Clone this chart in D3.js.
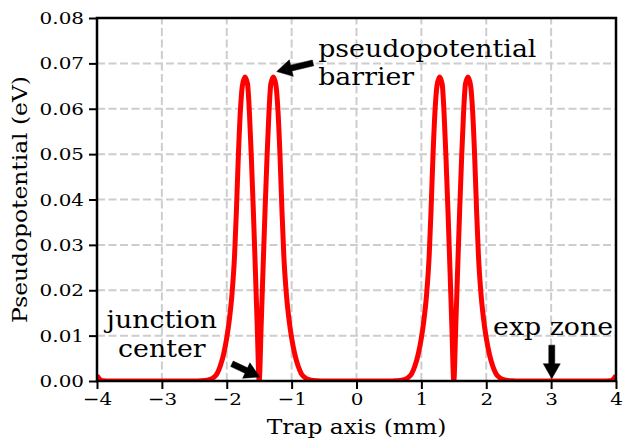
<!DOCTYPE html>
<html>
<head>
<meta charset="utf-8">
<script src="https://cdn.jsdelivr.net/npm/d3@7"></script>
<style>
  html, body { margin: 0; padding: 0; background: #fff; }
  svg text { font-family: "DejaVu Serif", "Liberation Serif", serif; fill: #000; }
</style>
</head>
<body>
<svg id="chart" width="624" height="440"></svg>
<script>
// Pseudopotential along the trap axis (mm) in eV
const trapX = [
  -4.00, -3.97, -3.94, -3.90, -3.80,
  -2.50, -2.40, -2.30, -2.25, -2.20, -2.15, -2.10, -2.05, -2.00, -1.96, -1.92, -1.88,
  -1.85, -1.82, -1.79, -1.76, -1.72, -1.68, -1.65, -1.62, -1.59, -1.56, -1.53, -1.50,
  -1.47, -1.44, -1.41, -1.38, -1.35, -1.32, -1.28, -1.24, -1.21, -1.18, -1.15, -1.12,
  -1.08, -1.04, -1.00, -0.95, -0.90, -0.85, -0.80, -0.75, -0.70, -0.60, -0.50,
  0.50, 0.60, 0.70, 0.75, 0.80, 0.85, 0.90, 0.95, 1.00, 1.04, 1.08, 1.12,
  1.15, 1.18, 1.21, 1.24, 1.28, 1.32, 1.35, 1.38, 1.41, 1.44, 1.47, 1.50,
  1.53, 1.56, 1.59, 1.62, 1.65, 1.68, 1.72, 1.76, 1.79, 1.82, 1.85, 1.88,
  1.92, 1.96, 2.00, 2.05, 2.10, 2.15, 2.20, 2.25, 2.30, 2.40, 2.50,
  3.80, 3.90, 3.94, 3.97, 4.00
];
const pseudoPot = [
  0.0012, 0.0006, 0.0002, 0.00005, 0.0000,
  0.0000, 0.00005, 0.0002, 0.0004, 0.0008, 0.0016, 0.0033, 0.0058, 0.0095, 0.0135, 0.0190, 0.0275,
  0.0380, 0.0500, 0.0595, 0.0650, 0.0670, 0.0655, 0.0590, 0.0490, 0.0375, 0.0250, 0.0120, 0.0000,
  0.0120, 0.0250, 0.0375, 0.0490, 0.0590, 0.0655, 0.0670, 0.0650, 0.0595, 0.0500, 0.0380, 0.0275,
  0.0190, 0.0135, 0.0095, 0.0058, 0.0033, 0.0016, 0.0008, 0.0004, 0.0002, 0.00005, 0.0000,
  0.0000, 0.00005, 0.0002, 0.0004, 0.0008, 0.0016, 0.0033, 0.0058, 0.0095, 0.0135, 0.0190, 0.0275,
  0.0380, 0.0500, 0.0595, 0.0650, 0.0670, 0.0655, 0.0590, 0.0490, 0.0375, 0.0250, 0.0120, 0.0000,
  0.0120, 0.0250, 0.0375, 0.0490, 0.0590, 0.0655, 0.0670, 0.0650, 0.0595, 0.0500, 0.0380, 0.0275,
  0.0190, 0.0135, 0.0095, 0.0058, 0.0033, 0.0016, 0.0008, 0.0004, 0.0002, 0.00005, 0.0000,
  0.0000, 0.00005, 0.0002, 0.0006, 0.0012
];

const xTicks = [-4, -3, -2, -1, 0, 1, 2, 3, 4];
const yTicks = [0.00, 0.01, 0.02, 0.03, 0.04, 0.05, 0.06, 0.07, 0.08];

// Annotations: text lines, text anchor point, arrow tail and arrow tip (data units)
const noteLabels = [["pseudopotential", "barrier"], ["junction", "center"], ["exp zone"]];
const noteAlign  = ["start", "middle", "middle"];
const noteTextX  = [-0.59, -3.00, 3.03];
const noteTextY  = [0.0715, 0.0116, 0.0101];
const arrowTailX = [-0.67, -1.92, 3.01];
const arrowTailY = [0.0701, 0.0038, 0.0079];
const arrowTipX  = [-1.23, -1.49, 3.01];
const arrowTipY  = [0.0682, 0.0009, 0.0005];

// wide serif lettering
const STRETCH = 1.14;

const margin = { left: 97, top: 18, right: 8, bottom: 59 };
const W = 624, H = 440;
const innerW = W - margin.left - margin.right;
const innerH = H - margin.top - margin.bottom;

const svg = d3.select("#chart");
const g = svg.append("g").attr("transform", `translate(${margin.left},${margin.top})`);

const x = d3.scaleLinear().domain([-4, 4]).range([0, innerW]);
const y = d3.scaleLinear().domain([0, 0.08]).range([innerH, 0]);

// dashed grid
const grid = g.append("g").attr("class", "grid")
  .attr("stroke", "#cdcdcd").attr("stroke-width", 2).attr("stroke-dasharray", "8,3.5");
grid.selectAll("line.gx").data(xTicks).join("line")
  .attr("class", "gx")
  .attr("x1", d => x(d)).attr("x2", d => x(d))
  .attr("y1", innerH).attr("y2", 0);
grid.selectAll("line.gy").data(yTicks).join("line")
  .attr("class", "gy")
  .attr("y1", d => y(d)).attr("y2", d => y(d))
  .attr("x1", 0).attr("x2", innerW);

// curve, clipped to the axes box
svg.append("defs").append("clipPath").attr("id", "plotClip")
  .append("rect").attr("x", 0).attr("y", 0).attr("width", innerW).attr("height", innerH);

const pts = trapX.map((v, i) => [v, pseudoPot[i]]);
const line = d3.line()
  .x(d => x(d[0]))
  .y(d => y(d[1]))
  .curve(d3.curveMonotoneX);

g.append("path")
  .datum(pts)
  .attr("clip-path", "url(#plotClip)")
  .attr("fill", "none")
  .attr("stroke", "#ff0000")
  .attr("stroke-width", 5)
  .attr("stroke-linejoin", "round")
  .attr("d", line);

// axes with outward ticks
const xAxis = d3.axisBottom(x).tickValues(xTicks).tickFormat(d3.format("d")).tickSize(8).tickPadding(4);
const yAxis = d3.axisLeft(y).tickValues(yTicks).tickFormat(d3.format(".2f")).tickSize(8).tickPadding(5);

const gx = g.append("g").attr("transform", `translate(0,${innerH})`).call(xAxis);
const gy = g.append("g").call(yAxis);
[gx, gy].forEach(a => {
  a.select(".domain").remove();
  a.selectAll(".tick line").attr("stroke", "#000").attr("stroke-width", 2);
  a.selectAll(".tick text")
    .style("font-family", '"DejaVu Serif", serif')
    .style("font-size", "17.5px")
    .attr("fill", "#000")
    .each(function () {
      const t = d3.select(this);
      const tx = +t.attr("x") || 0;
      t.attr("x", tx / STRETCH).attr("transform", `scale(${STRETCH},1)`);
    });
});

// full box of spines
g.append("rect")
  .attr("x", 0).attr("y", 0).attr("width", innerW).attr("height", innerH)
  .attr("fill", "none").attr("stroke", "#000").attr("stroke-width", 2.5);

// axis labels
svg.append("text")
  .attr("transform", `translate(${margin.left + innerW / 2},434) scale(${STRETCH},1)`)
  .attr("text-anchor", "middle")
  .style("font-size", "20.5px")
  .text("Trap axis (mm)");
svg.append("text")
  .attr("transform", `translate(27,${margin.top + innerH / 2}) rotate(-90) scale(${STRETCH},1)`)
  .attr("text-anchor", "middle")
  .style("font-size", "20.5px")
  .text("Pseudopotential (eV)");

// annotation arrows
function arrowPath(x0, y0, x1, y1) {
  const dx = x1 - x0, dy = y1 - y0;
  const L = Math.hypot(dx, dy);
  const ux = dx / L, uy = dy / L, nx = -uy, ny = ux;
  const shaft = 3, head = 8.5, headLen = Math.min(15, L * 0.6);
  const bx = x1 - ux * headLen, by = y1 - uy * headLen;
  const p = [
    [x0 + nx * shaft, y0 + ny * shaft],
    [bx + nx * shaft, by + ny * shaft],
    [bx + nx * head, by + ny * head],
    [x1, y1],
    [bx - nx * head, by - ny * head],
    [bx - nx * shaft, by - ny * shaft],
    [x0 - nx * shaft, y0 - ny * shaft]
  ];
  return "M" + p.map(q => q.join(",")).join("L") + "Z";
}

const notes = g.append("g").attr("class", "notes");
noteLabels.forEach((lines, i) => {
  notes.append("path")
    .attr("d", arrowPath(x(arrowTailX[i]), y(arrowTailY[i]), x(arrowTipX[i]), y(arrowTipY[i])))
    .attr("fill", "#000").attr("stroke", "#000").attr("stroke-width", 0.5);
  const t = notes.append("text")
    .attr("transform", `translate(${x(noteTextX[i])},${y(noteTextY[i])}) scale(${STRETCH},1)`)
    .attr("text-anchor", noteAlign[i])
    .style("font-size", "23.5px");
  lines.forEach((s, k) => {
    t.append("tspan").attr("x", 0).attr("dy", k === 0 ? 0 : 28.5).text(s);
  });
});
</script>
</body>
</html>
